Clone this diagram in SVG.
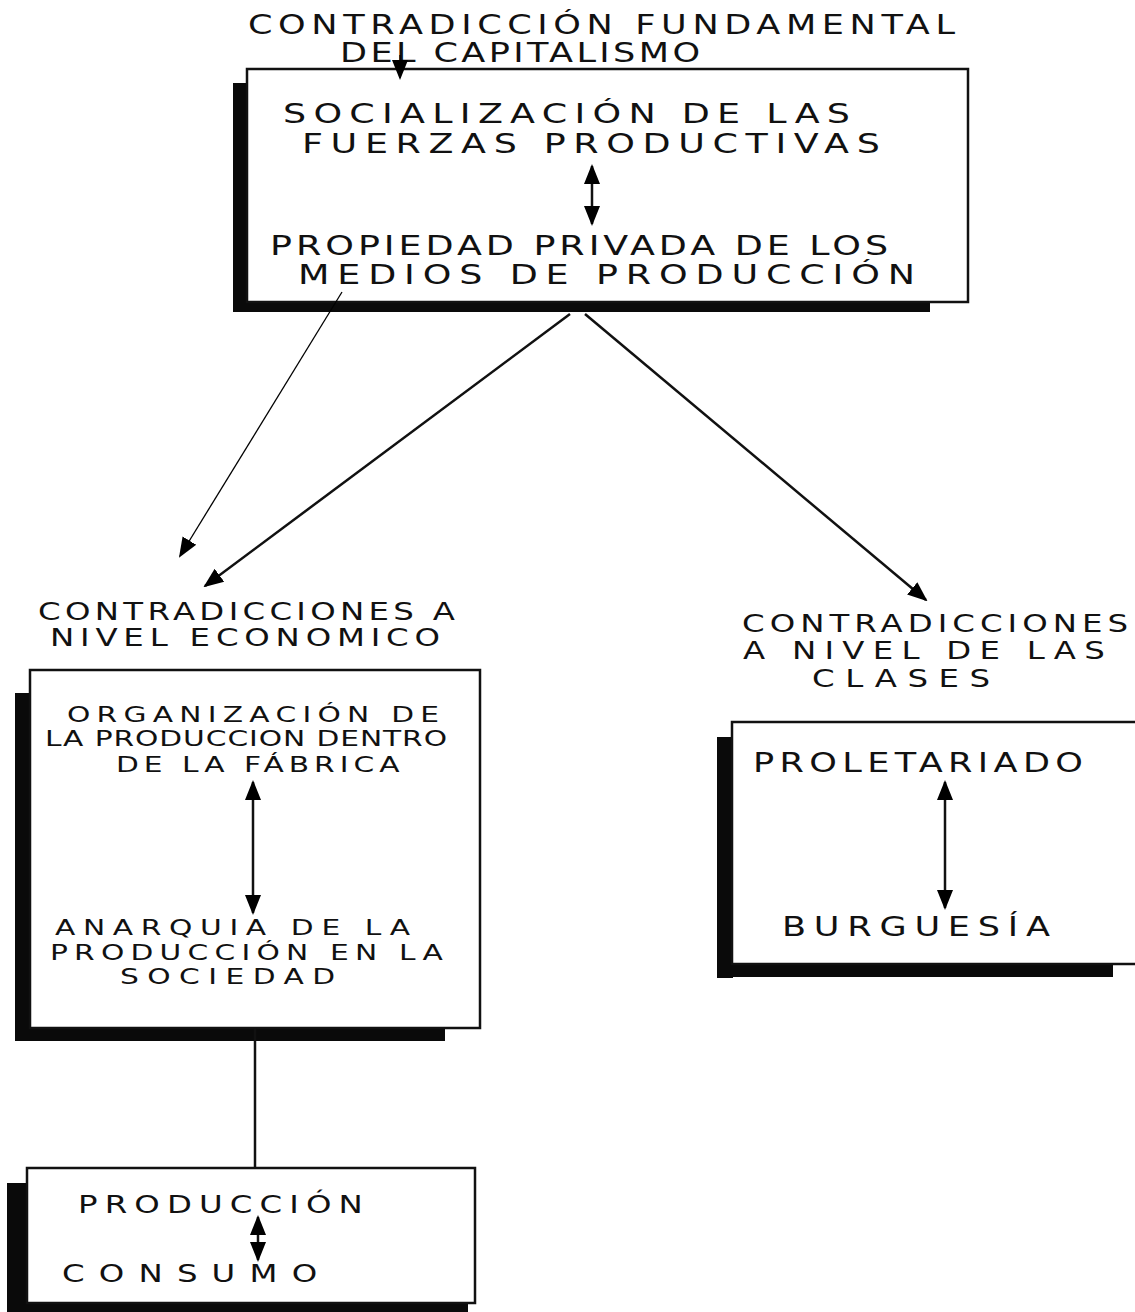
<svg xmlns="http://www.w3.org/2000/svg" width="1135" height="1312" viewBox="0 0 1135 1312">
<defs>
<style>
.t{font-family:"DejaVu Sans","Liberation Sans",sans-serif;font-size:26px;fill:#111;}
.s22{font-size:22px;}
.s24{font-size:24px;}
.s27{font-size:27px;}
.box{fill:#fff;stroke:#111;stroke-width:2.5;}
.sh{fill:#0a0a0a;}
.ln{stroke:#111;stroke-width:2.5;fill:none;}
.thin{stroke:#000;stroke-width:1.3;fill:none;}
</style>
<marker id="ab" viewBox="0 0 10 10" refX="9" refY="5" markerWidth="20" markerHeight="20" orient="auto-start-reverse" markerUnits="userSpaceOnUse">
<path d="M0,1 L10,5 L0,9 z" fill="#000"/>
</marker>
</defs>
<rect width="1135" height="1312" fill="#fff"/>

<g id="title">
<text class="t" transform="translate(248,34) scale(1.35,1)" textLength="523.7" lengthAdjust="spacing">CONTRADICCIÓN FUNDAMENTAL</text>
<text class="t" transform="translate(340,62) scale(1.35,1)" textLength="266.7" lengthAdjust="spacing">DEL CAPITALISMO</text>
</g>

<g id="node-fundamental">
<rect class="sh" x="233" y="83" width="14" height="229"/>
<rect class="sh" x="233" y="299" width="697" height="13"/>
<rect class="box" x="247" y="69" width="721" height="233"/>
<text class="t s27" transform="translate(283,123) scale(1.35,1)" textLength="420" lengthAdjust="spacing">SOCIALIZACIÓN  DE LAS</text>
<text class="t s27" transform="translate(302,153) scale(1.35,1)" textLength="428" lengthAdjust="spacing">FUERZAS PRODUCTIVAS</text>
<line class="ln" x1="592" y1="166" x2="592" y2="224" marker-start="url(#ab)" marker-end="url(#ab)"/>
<text class="t s27" transform="translate(270,255) scale(1.35,1)" textLength="457.8" lengthAdjust="spacing">PROPIEDAD PRIVADA DE LOS</text>
<text class="t s27" transform="translate(298,284) scale(1.35,1)" textLength="457" lengthAdjust="spacing">MEDIOS DE PRODUCCIÓN</text>
</g>

<g id="node-economico">
<text class="t s24" transform="translate(38,620) scale(1.35,1)" textLength="308.9" lengthAdjust="spacing">CONTRADICCIONES A</text>
<text class="t s24" transform="translate(50,646) scale(1.35,1)" textLength="288.9" lengthAdjust="spacing">NIVEL ECONOMICO</text>
<rect class="sh" x="15" y="693" width="16" height="348"/>
<rect class="sh" x="15" y="1028" width="430" height="13"/>
<rect class="box" x="30" y="670" width="450" height="358"/>
<text class="t s22" transform="translate(67,722) scale(1.35,1)" textLength="275.6" lengthAdjust="spacing">ORGANIZACIÓN DE</text>
<text class="t s22" transform="translate(45,746) scale(1.35,1)" textLength="297.8" lengthAdjust="spacing">LA PRODUCCION DENTRO</text>
<text class="t s22" transform="translate(116,772) scale(1.35,1)" textLength="210" lengthAdjust="spacing">DE LA FÁBRICA</text>
<line class="ln" x1="253" y1="782" x2="253" y2="913" marker-start="url(#ab)" marker-end="url(#ab)"/>
<text class="t s22" transform="translate(55,935) scale(1.35,1)" textLength="263" lengthAdjust="spacing">ANARQUIA DE LA</text>
<text class="t s22" transform="translate(50,960) scale(1.35,1)" textLength="291" lengthAdjust="spacing">PRODUCCIÓN EN LA</text>
<text class="t s22" transform="translate(120,984) scale(1.35,1)" textLength="159.3" lengthAdjust="spacing">SOCIEDAD</text>
</g>

<g id="node-clases">
<text class="t s24" transform="translate(742,632) scale(1.35,1)" textLength="286" lengthAdjust="spacing">CONTRADICCIONES</text>
<text class="t s24" transform="translate(743,659) scale(1.35,1)" textLength="268" lengthAdjust="spacing">A NIVEL DE LAS</text>
<text class="t s24" transform="translate(812,687) scale(1.35,1)" textLength="132" lengthAdjust="spacing">CLASES</text>
<rect class="sh" x="717" y="737" width="16" height="241"/>
<rect class="sh" x="717" y="964" width="396" height="13"/>
<rect class="box" x="732" y="722" width="410" height="242"/>
<text class="t" transform="translate(753,772) scale(1.35,1)" textLength="244.4" lengthAdjust="spacing">PROLETARIADO</text>
<line class="ln" x1="945" y1="782" x2="945" y2="908" marker-start="url(#ab)" marker-end="url(#ab)"/>
<text class="t" transform="translate(782,936) scale(1.35,1)" textLength="198.5" lengthAdjust="spacing">BURGUESÍA</text>
</g>

<g id="node-produccion">
<rect class="sh" x="7" y="1183" width="20" height="129"/>
<rect class="sh" x="7" y="1301" width="461" height="11"/>
<rect class="box" x="27" y="1168" width="448" height="135"/>
<text class="t s24" transform="translate(78,1213) scale(1.35,1)" textLength="211" lengthAdjust="spacing">PRODUCCIÓN</text>
<line class="ln" x1="258" y1="1217" x2="258" y2="1260" marker-start="url(#ab)" marker-end="url(#ab)"/>
<text class="t s24" transform="translate(62,1282) scale(1.35,1)" textLength="189" lengthAdjust="spacing">CONSUMO</text>
</g>

<g id="connectors">
<line class="thin" x1="400" y1="55" x2="400" y2="78" marker-end="url(#ab)"/>
<line class="thin" x1="342" y1="292" x2="180" y2="556" marker-end="url(#ab)"/>
<line class="ln" x1="570" y1="314" x2="205" y2="586" marker-end="url(#ab)"/>
<line class="ln" x1="585" y1="314" x2="926" y2="600" marker-end="url(#ab)"/>
<line class="ln" x1="255" y1="1028" x2="255" y2="1168"/>
</g>
</svg>
